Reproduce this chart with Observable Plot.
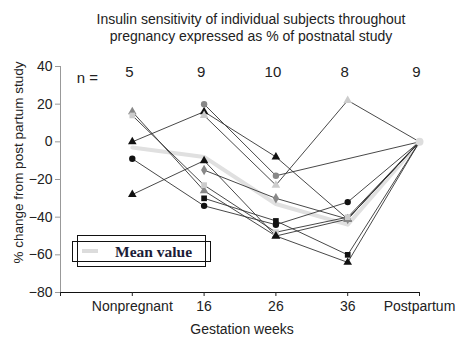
<!DOCTYPE html>
<html>
<head>
<meta charset="utf-8">
<script src="https://cdn.jsdelivr.net/npm/d3@7"></script>
<script src="https://cdn.jsdelivr.net/npm/@observablehq/plot@0.6"></script>
<style>
  html, body { margin: 0; padding: 0; background: #fff; }
</style>
</head>
<body>
<div id="chart"></div>
<script>
// ---- data ----
const weeks = ["Nonpregnant", "16", "26", "36", "Postpartum"];
const nCounts = [5, 9, 10, 8, 9];
const yTicks = [40, 20, 0, -20, -40, -60, -80];
const meanValues = [-3, -8, -33, -44, 0];
// per-subject % change at each time point (null = not studied)
const s1 = [0, 16, -8, -41, 0];
const s2 = [-28, -10, -50, -64, 0];
const s3 = [null, 20, -18, null, 0];
const s4 = [16, -26, -50, -41, 0];
const s5 = [null, -30, -42, -60, 0];
const s6 = [-9, -34, -44, -32, 0];
const s7 = [null, 14, -23, 22, 0];
const s8 = [null, -15, -30, -41, 0];
const s9 = [14, -23, -48, -40, 0];
const s10 = [null, null, -50, null, null];
const subjectIds = ["S1","S2","S3","S4","S5","S6","S7","S8","S9","S10"];
const subjects = [s1, s2, s3, s4, s5, s6, s7, s8, s9, s10];

// ---- styles (separate from data) ----
const symbolRange = ["triangle","triangle","circle","triangle","square","circle","triangle","diamond","square","triangle"];
const fillRange = ["#111","#111","#888","#888","#111","#111","#ccc","#888","#ccc","#111"];

const points = [];
subjects.forEach((arr, k) => arr.forEach((v, i) => {
  if (v !== null) points.push({id: subjectIds[k], t: i, v});
}));
const meanPts = meanValues.map((v, i) => ({t: i, v}));

const plot = Plot.plot({
  width: 460, height: 351,
  marginLeft: 60, marginRight: 41, marginTop: 66, marginBottom: 59,
  style: {fontFamily: "'Liberation Sans', Arial, sans-serif", fontSize: "13px", color: "#222", background: "#fff"},
  x: {domain: [-1, 4], axis: null},
  y: {domain: [-80, 40], axis: null},
  symbol: {domain: subjectIds, range: symbolRange},
  color: {domain: subjectIds, range: fillRange},
  marks: [
    // mean line
    Plot.line(meanPts, {x: "t", y: "v", stroke: "#e0e0e0", strokeWidth: 4}),
    // subject lines
    Plot.line(points, {x: "t", y: "v", z: "id", stroke: "#333", strokeWidth: 0.9}),
    // markers
    Plot.dot(points.filter(d => d.t < 4), {x: "t", y: "v", symbol: "id", fill: "id", r: 3.2}),
    Plot.dot(meanPts.filter(d => d.t === 4), {x: "t", y: "v", fill: "#ddd", r: 4}),
    // axes
    Plot.ruleX([-1], {stroke: "#999"}),
    Plot.ruleY([-80], {stroke: "#111"}),
    Plot.axisY({ticks: yTicks, tickSize: 5, tickPadding: 3, stroke: "#999", fill: "#222", label: null, fontSize: 14}),
    Plot.axisX({ticks: [-1, 0, 1, 2, 3, 4], tickFormat: i => i < 0 ? "" : weeks[i], tickSize: 4, tickPadding: 5, stroke: "#222", fill: "#222", label: null, fontSize: 14}),
    // n counts
    Plot.text(["n ="], {frameAnchor: "top-left", dx: 27, dy: 6, textAnchor: "middle", fontSize: 15, fill: "#222"}),
    Plot.text(nCounts, {x: (d, i) => i, y: 40, dx: -3, dy: 6, text: d => String(d), fontSize: 15, fill: "#222"}),
    // labels
    Plot.text(["Gestation weeks"], {frameAnchor: "bottom", dx: 2, dy: 41, fontSize: 14, fill: "#222"}),
    Plot.text(["% change from post partum study"], {frameAnchor: "left", textAnchor: "middle", dx: -42, dy: -17, rotate: -90, fontSize: 13.5, fill: "#222"}),
    Plot.text(["Insulin sensitivity of individual subjects throughout"], {frameAnchor: "top", dx: 11, dy: -52, fontSize: 14, fill: "#222"}),
    Plot.text(["pregnancy expressed as % of postnatal study"], {frameAnchor: "top", dx: 11, dy: -35, fontSize: 14, fill: "#222"})
  ]
});
document.getElementById("chart").appendChild(plot);

// legend box (decoration)
const svg = d3.select(plot);
const g = svg.append("g");
g.append("rect").attr("x", 77.5).attr("y", 235.5).attr("width", 128).attr("height", 31).attr("fill", "none").attr("stroke", "#111");
g.append("rect").attr("x", 72.5).attr("y", 241.5).attr("width", 138).attr("height", 20).attr("fill", "none").attr("stroke", "#111");
g.append("line").attr("x1", 82).attr("x2", 98).attr("y1", 251).attr("y2", 251).attr("stroke", "#dcdcdc").attr("stroke-width", 4);
g.append("text").attr("x", 115).attr("y", 257).attr("text-anchor", "start").attr("font-family", "'Liberation Serif', 'Times New Roman', serif")
  .attr("font-weight", "bold").attr("font-size", 15.5).attr("fill", "#1c1c38").text("Mean value");
</script>
</body>
</html>
